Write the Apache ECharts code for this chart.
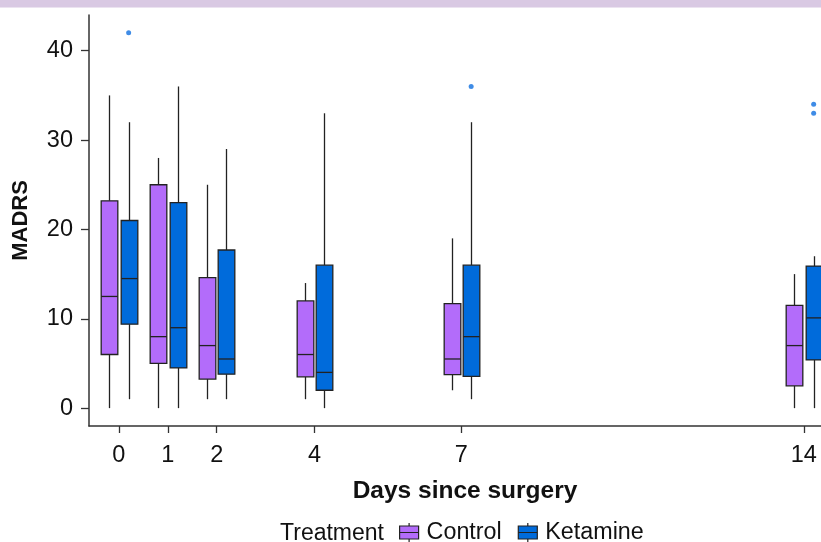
<!DOCTYPE html>
<html>
<head>
<meta charset="utf-8">
<script src="https://cdn.jsdelivr.net/npm/echarts@6/dist/echarts.min.js"></script>
<style>
html,body{margin:0;padding:0;background:#fff;}
#chart{width:821px;height:542px;}
</style>
</head>
<body>
<div id="chart"></div>
<script>
// ---- data ----
const days = [0, 1, 2, 4, 7, 14];
const xTicks = [0, 1, 2, 4, 7, 14];
const yTicks = [0, 10, 20, 30, 40];
const groups = ['Control', 'Ketamine'];
// [lower whisker, Q1, median, Q3, upper whisker] per day
const controlStats = [
  [0, 6, 12.5, 23.2, 35],
  [0, 5, 8, 25, 28],
  [1, 3.25, 7, 14.6, 25],
  [1, 3.5, 6, 12, 14],
  [2, 3.75, 5.5, 11.7, 19],
  [0, 2.5, 7, 11.5, 15]
];
const ketamineStats = [
  [1, 9.4, 14.5, 21, 32],
  [0, 4.5, 9, 23, 36],
  [1, 3.8, 5.5, 17.7, 29],
  [0, 2, 4, 16, 33],
  [1, 3.55, 8, 16, 32],
  [0, 5.4, 10.1, 15.9, 17]
];
// [day, value]
const ketamineOutliers = [[0, 42], [7, 36], [14, 34], [14, 33]];

// ---- styling / layout ----
const COLORS = {Control: '#b36cfa', Ketamine: '#006bdb'};
const OFFSET = 0.2;     // dodge, in days
const BOXW = 0.34;      // box width, in days
const EDGE = '#222222';
const FONT = 'Liberation Sans, Arial, sans-serif';

function boxSeries(name, stats, offset) {
  return {
    name: name,
    type: 'custom',
    clip: false,
    itemStyle: {color: COLORS[name]},
    data: days.map((d, i) => [d].concat(stats[i])),
    encode: {x: 0, y: [1, 2, 3, 4, 5]},
    renderItem: function (params, api) {
      const x = api.value(0) + offset;
      const lo = api.coord([x, api.value(1)]);
      const q1 = api.coord([x, api.value(2)]);
      const md = api.coord([x, api.value(3)]);
      const q3 = api.coord([x, api.value(4)]);
      const hi = api.coord([x, api.value(5)]);
      const w = api.size([BOXW, 0])[0];
      const cx = Math.round(lo[0]) + 0.5;
      const lineStyle = {stroke: EDGE, lineWidth: 1.3};
      return {
        type: 'group',
        children: [
          {type: 'line', shape: {x1: cx, y1: hi[1], x2: cx, y2: q3[1]}, style: lineStyle},
          {type: 'line', shape: {x1: cx, y1: q1[1], x2: cx, y2: lo[1]}, style: lineStyle},
          {type: 'rect', shape: {x: cx - w / 2, y: q3[1], width: w, height: q1[1] - q3[1]},
           style: {fill: COLORS[name], stroke: EDGE, lineWidth: 1.3}},
          {type: 'line', shape: {x1: cx - w / 2, y1: md[1], x2: cx + w / 2, y2: md[1]}, style: lineStyle}
        ]
      };
    }
  };
}

const ICON = 'path://M0,3L19,3L19,16L0,16Z M0,9.5L19,9.5 M9.5,0L9.5,3 M9.5,16L9.5,19';

const chart = echarts.init(document.getElementById('chart'), null, {renderer: 'canvas'});
chart.setOption({
  animation: false,
  backgroundColor: '#ffffff',
  textStyle: {fontFamily: FONT},
  grid: {left: 89, right: 0, top: 15, bottom: 116, containLabel: false},
  xAxis: {
    type: 'value',
    min: -0.61,
    max: 14.35,
    axisLine: {show: true, onZero: false, lineStyle: {color: '#333', width: 1.5}},
    axisTick: {show: true, length: 7, lineStyle: {color: '#333', width: 1.3}, customValues: xTicks},
    axisLabel: {customValues: xTicks, fontSize: 23.5, color: '#111', margin: 18, fontFamily: FONT},
    splitLine: {show: false}
  },
  yAxis: {
    type: 'value',
    min: -2,
    max: 44,
    name: 'MADRS',
    nameLocation: 'middle',
    nameGap: 57,
    nameMoveOverlap: false,
    nameTextStyle: {fontSize: 22, fontWeight: 'bold', color: '#111', fontFamily: FONT},
    axisLine: {show: true, onZero: false, lineStyle: {color: '#333', width: 1.5}},
    axisTick: {show: true, length: 8, lineStyle: {color: '#333', width: 1.3}, customValues: yTicks},
    axisLabel: {customValues: yTicks, fontSize: 23.5, color: '#111', margin: 16, fontFamily: FONT},
    splitLine: {show: false}
  },
  legend: {
    left: 399,
    top: 521,
    padding: 0,
    itemWidth: 19,
    itemHeight: 19,
    itemGap: 16,
    textStyle: {fontSize: 23.3, lineHeight: 19, color: '#111', padding: [0, 0, 0, 3], fontFamily: FONT},
    data: groups.map(g => ({name: g, icon: ICON,
      itemStyle: {color: COLORS[g], borderColor: EDGE, borderWidth: 1.2}}))
  },
  graphic: [
    {type: 'rect', shape: {x: 0, y: 0, width: 821, height: 7}, style: {fill: '#d9c9e3'}, silent: true},
    {type: 'rect', shape: {x: 0, y: 7, width: 821, height: 1}, style: {fill: '#ebe3f0'}, silent: true},
    {type: 'text', x: 465, y: 491, silent: true,
      style: {text: 'Days since surgery', fontSize: 24.5, fontWeight: 'bold', fill: '#111',
        textAlign: 'center', textVerticalAlign: 'middle', fontFamily: FONT}},
    {type: 'text', x: 384, y: 534, silent: true,
      style: {text: 'Treatment', fontSize: 23, fill: '#111',
        textAlign: 'right', textVerticalAlign: 'middle', fontFamily: FONT}}
  ],
  series: [
    boxSeries('Control', controlStats, -OFFSET),
    boxSeries('Ketamine', ketamineStats, OFFSET),
    {
      name: 'Ketamine outliers',
      type: 'scatter',
      symbol: 'circle',
      symbolSize: 5,
      itemStyle: {color: '#0f6fe0'},
      data: ketamineOutliers.map(p => [p[0] + OFFSET, p[1]])
    }
  ]
});
</script>
</body>
</html>
